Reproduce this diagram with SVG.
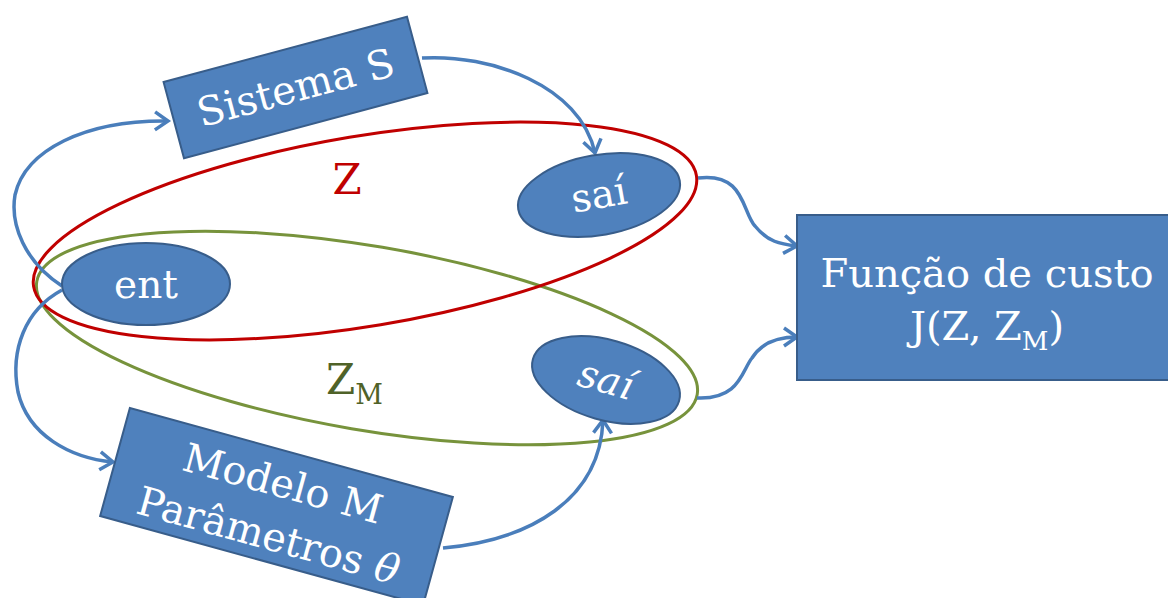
<svg xmlns="http://www.w3.org/2000/svg" width="1168" height="598" viewBox="0 0 1168 598">
<style>
.box{fill:#4F81BD;stroke:#385D8A;stroke-width:2}
.t{font-family:"DejaVu Serif","Liberation Serif",serif;fill:#fff;text-anchor:middle}
.conn{fill:none;stroke:#4A7EBB;stroke-width:3.5;marker-end:url(#ah)}
.set{fill:none;stroke-width:3}
</style>
<defs>
<marker id="ah" markerUnits="userSpaceOnUse" markerWidth="26" markerHeight="26" refX="17" refY="11" orient="auto" viewBox="0 0 26 22">
<path d="M4,2 L17,11 L4,20" fill="none" stroke="#4A7EBB" stroke-width="3.5" stroke-linejoin="miter"/>
</marker>
</defs>
<rect width="1168" height="598" fill="#fff"/>
<g id="sets">
<ellipse class="set" cx="367" cy="338" rx="335" ry="92" transform="rotate(9.7 367 338)" stroke="#77933C"/>
<ellipse class="set" cx="365" cy="231" rx="336" ry="95" transform="rotate(-9.5 365 231)" stroke="#C00000"/>
<text x="347" y="194" font-family="DejaVu Serif, Liberation Serif, serif" font-size="42" fill="#C00000" text-anchor="middle">Z</text>
<text x="326" y="394" font-family="DejaVu Serif, Liberation Serif, serif" font-size="42" fill="#4F6228">Z<tspan font-size="27" dy="10">M</tspan></text>
</g>
<g id="connectors">
<path class="conn" d="M62,286 C25,262 10,225 15,195 C25,150 85,120 168,121"/>
<path class="conn" d="M62,290 C25,310 10,350 18,392 C28,435 70,458 113,462"/>
<path class="conn" d="M422,58 C490,54 580,85 595,153"/>
<path class="conn" d="M698,178 C745,172 742,212 755,226 C768,242 780,244 797,246"/>
<path class="conn" d="M697,398 C740,400 742,370 752,358 C762,342 780,337 797,337"/>
<path class="conn" d="M443,548 C530,540 600,500 603,420"/>
</g>
<g id="sistema">
<g transform="translate(295.5 87.5) rotate(-15)">
<rect class="box" x="-126" y="-39.5" width="252" height="79"/>
<text class="t" x="0" y="14" font-size="40">Sistema S</text>
</g>
</g>
<g id="ent">
<ellipse class="box" cx="146" cy="284" rx="84" ry="41"/>
<text class="t" x="146" y="298" font-size="39">ent</text>
</g>
<g id="sai1">
<g transform="translate(599 195) rotate(-10)">
<ellipse class="box" cx="0" cy="0" rx="82" ry="40"/>
<text class="t" x="0" y="13" font-size="39">saí</text>
</g>
</g>
<g id="sai2">
<g transform="translate(606 380) rotate(16)">
<ellipse class="box" cx="0" cy="0" rx="76" ry="40"/>
<text class="t" x="0" y="13" font-size="39" font-style="italic">saí</text>
</g>
</g>
<g id="modelo">
<g transform="translate(276.5 506.5) rotate(15.4)">
<rect class="box" x="-167.5" y="-56" width="335" height="112"/>
<text class="t" x="0" y="-10" font-size="40">Modelo M</text>
<text class="t" x="0" y="44" font-size="40">Parâmetros <tspan font-style="italic">θ</tspan></text>
</g>
</g>
<g id="funcao">
<rect class="box" x="797" y="215" width="372" height="165"/>
<text class="t" x="987" y="287" font-size="40">Função de custo</text>
<text class="t" x="987" y="340" font-size="40">J(Z, Z<tspan font-size="26" dy="10">M</tspan><tspan dy="-10">)</tspan></text>
</g>
</svg>
